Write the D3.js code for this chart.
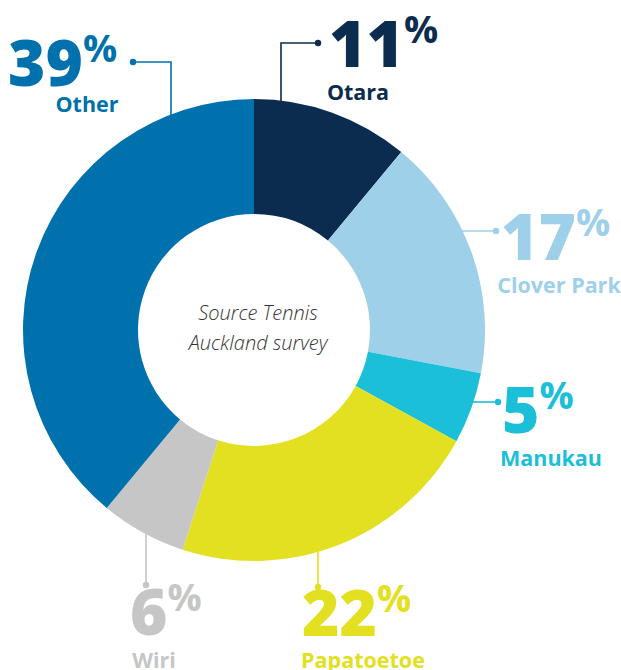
<!DOCTYPE html>
<meta charset="utf-8">
<style>
body { margin: 0; background: #fff; }
.big { font-family: "Open Sans", sans-serif; font-weight: 800; }
.name { font-family: "Open Sans", sans-serif; font-weight: 700; }
.note { font-family: "Open Sans", sans-serif; font-style: italic; font-weight: 300; fill: #333; }
</style>
<svg width="621" height="670"></svg>
<script src="https://d3js.org/d3.v7.min.js"></script>
<script>
  // data
  var categories = ["Otara", "Clover Park", "Manukau", "Papatoetoe", "Wiri", "Other"];
  var values = [11, 17, 5, 22, 6, 39];
  var colors = ["#0b2c4e", "#9fd0e9", "#1bbfd7", "#e2e021", "#c6c6c6", "#0071ad"];

  // label layout: dot position, leader direction, text anchor point
  var layout = [
    {dot: [318, 43], dir: "h-down", elbow: 281, tx: 329, ty: 67, nx: 358, ny: 100},
    {dot: [496, 231], dir: "h", tx: 501, ty: 260, nx: 559, ny: 293},
    {dot: [498, 402], dir: "h", tx: 502, ty: 433, nx: 551, ny: 466},
    {dot: [318, 587], dir: "v", tx: 302, ty: 636, nx: 363, ny: 668},
    {dot: [146, 585], dir: "v", tx: 130, ty: 635, nx: 154, ny: 668},
    {dot: [133, 62], dir: "h-down", elbow: 171, tx: 8, ty: 86, nx: 87, ny: 112}
  ];

  var svg = d3.select("svg"),
      cx = 254, cy = 330,
      outer = 231, inner = 116;

  var data = categories.map(function(c, i) {
    return {name: c, value: values[i], color: colors[i], lay: layout[i]};
  });

  var pie = d3.pie().sort(null).value(function(d) { return d.value; });
  var arc = d3.arc().innerRadius(inner).outerRadius(outer);

  var g = svg.append("g").attr("transform", "translate(" + cx + "," + cy + ")");
  g.selectAll("path")
    .data(pie(data))
    .enter().append("path")
      .attr("d", arc)
      .attr("fill", function(d) { return d.data.color; });

  // leaders
  data.forEach(function(d) {
    var L = d.lay, pts;
    if (L.dir === "h") {
      var dy = L.dot[1] - cy;
      var ex = cx + Math.sqrt(outer * outer - dy * dy) - 2;
      pts = [[ex, L.dot[1]], L.dot];
    } else if (L.dir === "v") {
      var dx = L.dot[0] - cx;
      var ey = cy + Math.sqrt(outer * outer - dx * dx) - 2;
      pts = [[L.dot[0], ey], L.dot];
    } else {
      var dx2 = L.elbow - cx;
      var ey2 = cy - Math.sqrt(outer * outer - dx2 * dx2) + 2;
      pts = [[L.elbow, ey2], [L.elbow, L.dot[1]], L.dot];
    }
    svg.append("path")
      .attr("d", d3.line()(pts))
      .attr("fill", "none")
      .attr("stroke", d.color)
      .attr("stroke-width", 1.6);
    svg.append("circle")
      .attr("cx", L.dot[0]).attr("cy", L.dot[1]).attr("r", 3.2)
      .attr("fill", d.color);

    var t = svg.append("text")
      .attr("class", "big")
      .attr("x", L.tx).attr("y", L.ty)
      .attr("fill", d.color)
      .attr("font-size", 64);
    t.append("tspan").text(d.value);
    t.append("tspan")
      .attr("font-size", 38)
      .attr("font-weight", 700)
      .attr("dx", 0)
      .attr("dy", -24)
      .text("%");

    svg.append("text")
      .attr("class", "name")
      .attr("x", L.nx).attr("y", L.ny)
      .attr("text-anchor", "middle")
      .attr("fill", d.color)
      .attr("font-size", 21.5)
      .text(d.name);
  });

  svg.append("text").attr("class", "note")
    .attr("x", 258).attr("y", 320).attr("text-anchor", "middle")
    .attr("font-size", 20).text("Source Tennis");
  svg.append("text").attr("class", "note")
    .attr("x", 258).attr("y", 350).attr("text-anchor", "middle")
    .attr("font-size", 20).text("Auckland survey");
</script>
